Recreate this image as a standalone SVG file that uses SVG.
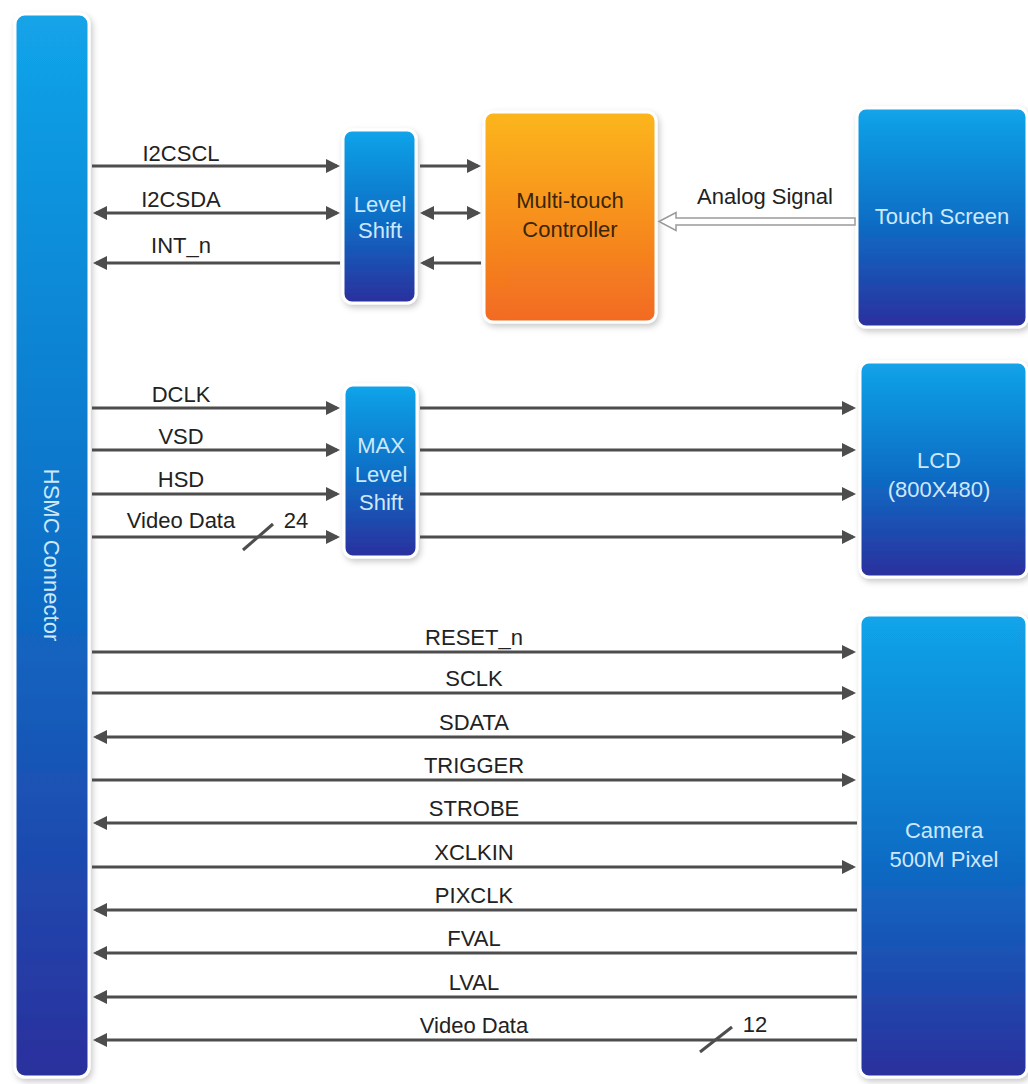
<svg xmlns="http://www.w3.org/2000/svg" width="1028" height="1084" viewBox="0 0 1028 1084">
<style>
.lbl{font-family:"Liberation Sans",Arial,sans-serif;font-size:22px;fill:#222;text-anchor:middle}
.bt{font-family:"Liberation Sans",Arial,sans-serif;font-size:22px;fill:#cde8fb;text-anchor:middle}
.ot{font-family:"Liberation Sans",Arial,sans-serif;font-size:22px;fill:#3a2608;text-anchor:middle}
.ln{stroke:#4d4d4d;stroke-width:3;fill:none}
.r{marker-end:url(#ah)}
.l{marker-start:url(#ah)}
.b{marker-start:url(#ah);marker-end:url(#ah)}
.box{stroke:#fff;stroke-width:3;filter:url(#sh)}
</style>
<defs>
<linearGradient id="gb" x1="0" y1="0" x2="0" y2="1">
<stop offset="0" stop-color="#12a4e9"/>
<stop offset="0.5" stop-color="#0c70c7"/>
<stop offset="1" stop-color="#2b2f9d"/>
</linearGradient>
<linearGradient id="go" x1="0" y1="0" x2="0" y2="1">
<stop offset="0" stop-color="#fcb61a"/>
<stop offset="1" stop-color="#f26a21"/>
</linearGradient>
<filter id="sh" x="-20%" y="-5%" width="140%" height="115%">
<feDropShadow dx="2" dy="3" stdDeviation="3" flood-color="#000" flood-opacity="0.22"/>
</filter>
<marker id="ah" viewBox="0 0 14 14" refX="11" refY="7" markerWidth="14" markerHeight="14" markerUnits="userSpaceOnUse" orient="auto-start-reverse">
<path d="M0,0 L14,7 L0,14 z" fill="#4d4d4d"/>
</marker>
</defs>
<rect width="1028" height="1084" fill="#fff"/>

<g id="hsmc">
<rect class="box" x="15" y="14" width="74" height="1063" rx="10" fill="url(#gb)"/>
<text class="bt" transform="translate(51,555) rotate(90)" dominant-baseline="central">HSMC Connector</text>
</g>

<g id="levelshift">
<rect class="box" x="343" y="130" width="73" height="173" rx="9" fill="url(#gb)"/>
<text class="bt" x="380" y="212">Level</text>
<text class="bt" x="380" y="238">Shift</text>
</g>

<g id="controller">
<rect class="box" x="484" y="112" width="172" height="210" rx="9" fill="url(#go)"/>
<text class="ot" x="570" y="208">Multi-touch</text>
<text class="ot" x="570" y="237">Controller</text>
</g>

<g id="touchscreen">
<rect class="box" x="857" y="108" width="170" height="219" rx="9" fill="url(#gb)"/>
<text class="bt" x="942" y="224">Touch Screen</text>
</g>

<g id="maxlevelshift">
<rect class="box" x="344" y="385" width="73" height="172" rx="9" fill="url(#gb)"/>
<text class="bt" x="381" y="453">MAX</text>
<text class="bt" x="381" y="482">Level</text>
<text class="bt" x="381" y="510">Shift</text>
</g>

<g id="lcd">
<rect class="box" x="860" y="362" width="167" height="215" rx="9" fill="url(#gb)"/>
<text class="bt" x="939" y="468">LCD</text>
<text class="bt" x="939" y="497">(800X480)</text>
</g>

<g id="camera">
<rect class="box" x="860" y="615" width="167" height="462" rx="9" fill="url(#gb)"/>
<text class="bt" x="944" y="838">Camera</text>
<text class="bt" x="944" y="867">500M Pixel</text>
</g>

<g id="connectors">
<!-- touch group -->
<line class="ln r" x1="92" y1="166" x2="337" y2="166"/>
<line class="ln b" x1="96" y1="213" x2="337" y2="213"/>
<line class="ln l" x1="96" y1="263" x2="340" y2="263"/>
<line class="ln r" x1="420" y1="166" x2="478" y2="166"/>
<line class="ln b" x1="423" y1="213" x2="478" y2="213"/>
<line class="ln l" x1="423" y1="263" x2="481" y2="263"/>
<polygon points="659,221.5 676,212.5 676,218 855,218 855,225 676,225 676,230.5" fill="#fff" stroke="#9a9a9a" stroke-width="1.5"/>
<text class="lbl" x="181" y="161">I2CSCL</text>
<text class="lbl" x="181" y="207">I2CSDA</text>
<text class="lbl" x="181" y="253">INT_n</text>
<text class="lbl" x="765" y="204">Analog Signal</text>

<!-- LCD group -->
<line class="ln r" x1="92" y1="408" x2="337" y2="408"/>
<line class="ln r" x1="92" y1="450" x2="337" y2="450"/>
<line class="ln r" x1="92" y1="494" x2="337" y2="494"/>
<line class="ln r" x1="92" y1="537" x2="337" y2="537"/>
<line class="ln" x1="243" y1="550" x2="273" y2="524" stroke-width="2.5"/>
<line class="ln r" x1="420" y1="408" x2="853" y2="408"/>
<line class="ln r" x1="420" y1="450" x2="853" y2="450"/>
<line class="ln r" x1="420" y1="494" x2="853" y2="494"/>
<line class="ln r" x1="420" y1="537" x2="853" y2="537"/>
<text class="lbl" x="181" y="402">DCLK</text>
<text class="lbl" x="181" y="444">VSD</text>
<text class="lbl" x="181" y="487">HSD</text>
<text class="lbl" x="181" y="528">Video Data</text>
<text class="lbl" x="296" y="528">24</text>

<!-- camera group -->
<line class="ln r" x1="92" y1="652" x2="853" y2="652"/>
<line class="ln r" x1="92" y1="693" x2="853" y2="693"/>
<line class="ln b" x1="96" y1="737" x2="853" y2="737"/>
<line class="ln r" x1="92" y1="780" x2="853" y2="780"/>
<line class="ln l" x1="96" y1="823" x2="857" y2="823"/>
<line class="ln r" x1="92" y1="867" x2="853" y2="867"/>
<line class="ln l" x1="96" y1="910" x2="857" y2="910"/>
<line class="ln l" x1="96" y1="953" x2="857" y2="953"/>
<line class="ln l" x1="96" y1="997" x2="857" y2="997"/>
<line class="ln l" x1="96" y1="1040" x2="857" y2="1040"/>
<line class="ln" x1="700" y1="1052" x2="732" y2="1027" stroke-width="2.5"/>
<text class="lbl" x="474" y="645">RESET_n</text>
<text class="lbl" x="474" y="686">SCLK</text>
<text class="lbl" x="474" y="730">SDATA</text>
<text class="lbl" x="474" y="773">TRIGGER</text>
<text class="lbl" x="474" y="816">STROBE</text>
<text class="lbl" x="474" y="860">XCLKIN</text>
<text class="lbl" x="474" y="903">PIXCLK</text>
<text class="lbl" x="474" y="946">FVAL</text>
<text class="lbl" x="474" y="990">LVAL</text>
<text class="lbl" x="474" y="1033">Video Data</text>
<text class="lbl" x="755" y="1032">12</text>
</g>
</svg>
